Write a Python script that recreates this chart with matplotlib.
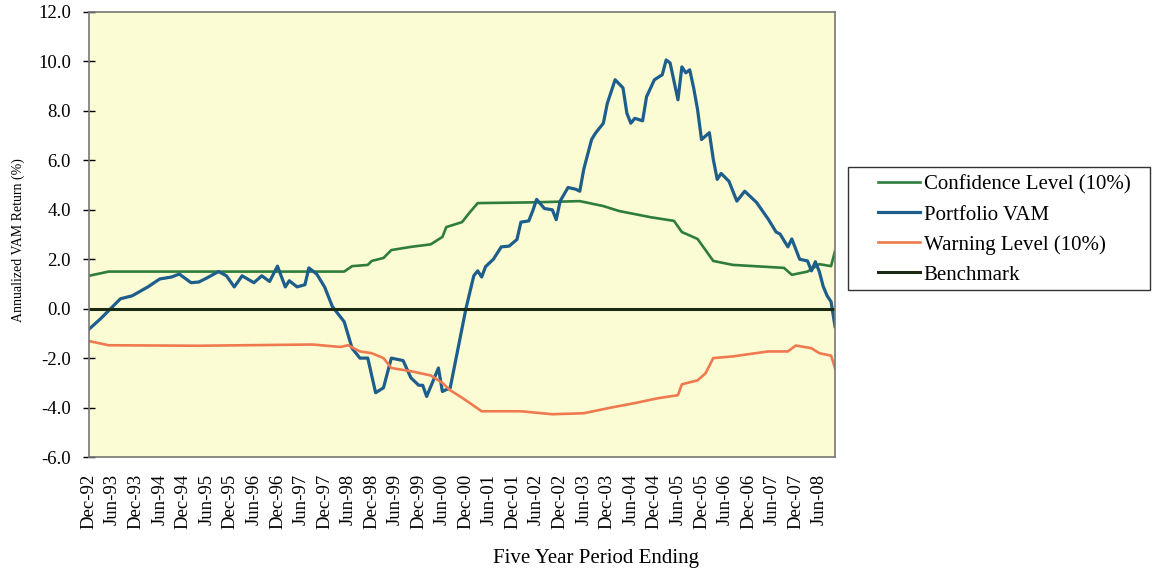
import matplotlib
matplotlib.use("Agg")
from matplotlib import pyplot as plt
from matplotlib.patches import Rectangle

# months counted from Dec-92
vam_month = [0, 3, 6, 8, 11, 15, 18, 21, 23, 26, 28, 30, 33, 35, 37, 39, 42, 44, 46, 48,
             50, 51, 53, 55, 56, 58, 60, 62, 65, 67, 69, 71, 73, 75, 77, 80, 82, 84, 85, 86,
             89, 90, 92, 96, 98, 99, 100, 101, 103, 105, 107, 109, 110, 112, 113, 114, 116,
             118, 119, 120, 122, 124, 125, 126, 128, 129, 131, 132, 134, 136, 137, 138, 139,
             141, 142, 144, 146, 147, 148, 150, 151, 152, 153, 154, 155, 156, 158, 159, 160,
             161, 163, 165, 167, 170, 173, 175, 176, 178, 179, 181, 183, 184, 185, 186, 187,
             188, 189, 190]
vam = [-0.83, -0.4, 0.08, 0.4, 0.52, 0.88, 1.2, 1.28, 1.4, 1.05, 1.08, 1.24, 1.5, 1.33, 0.88,
       1.33, 1.05, 1.33, 1.1, 1.72, 0.88, 1.13, 0.88, 0.97, 1.65, 1.4, 0.88, 0.08, -0.53, -1.6,
       -2.0, -2.0, -3.4, -3.2, -2.0, -2.1, -2.8, -3.1, -3.1, -3.55, -2.4, -3.35, -3.2, 0.0,
       1.33, 1.53, 1.28, 1.7, 2.0, 2.5, 2.53, 2.8, 3.5, 3.55, 3.95, 4.42, 4.05, 4.0, 3.6,
       4.35, 4.9, 4.83, 4.75, 5.63, 6.84, 7.1, 7.5, 8.3, 9.26, 8.93, 7.9, 7.5, 7.7, 7.6, 8.57,
       9.26, 9.46, 10.06, 9.94, 8.45, 9.78, 9.54, 9.66, 8.93, 8.05, 6.84, 7.12, 6.04, 5.23,
       5.47, 5.15, 4.35, 4.75, 4.3, 3.62, 3.1, 3.02, 2.5, 2.82, 2.0, 1.93, 1.53, 1.9, 1.5,
       0.9, 0.52, 0.28, -0.72]

conf_month = [0, 5, 28, 57, 65, 67, 71, 72, 75, 77, 82, 87, 90, 91, 95, 97, 99, 113, 125,
              131, 135, 143, 149, 151, 155, 159, 164, 177, 179, 183, 186, 189, 190]
conf = [1.33, 1.5, 1.5, 1.5, 1.5, 1.72, 1.77, 1.93, 2.05, 2.37, 2.5, 2.6, 2.9, 3.3, 3.5,
        3.9, 4.27, 4.3, 4.35, 4.15, 3.95, 3.7, 3.55, 3.1, 2.82, 1.93, 1.77, 1.65, 1.37, 1.5,
        1.8, 1.72, 2.33]

warn_month = [0, 5, 28, 45, 57, 64, 66, 69, 72, 75, 77, 82, 87, 90, 92, 95, 100, 110, 118,
              126, 133, 139, 145, 150, 151, 155, 157, 159, 164, 173, 178, 180, 184, 186, 189,
              190]
warn = [-1.31, -1.48, -1.5, -1.47, -1.45, -1.55, -1.48, -1.73, -1.8, -2.0, -2.4, -2.53,
        -2.7, -3.0, -3.3, -3.6, -4.15, -4.15, -4.27, -4.23, -4.0, -3.82, -3.62, -3.5, -3.06,
        -2.9, -2.62, -2.0, -1.93, -1.73, -1.73, -1.49, -1.6, -1.8, -1.9, -2.4]

bench_month = [0, 190]
bench = [0.0, 0.0]

tick_month = list(range(0, 187, 6))
tick_labels = ["Dec-92", "Jun-93", "Dec-93", "Jun-94", "Dec-94", "Jun-95", "Dec-95", "Jun-96",
               "Dec-96", "Jun-97", "Dec-97", "Jun-98", "Dec-98", "Jun-99", "Dec-99", "Jun-00",
               "Dec-00", "Jun-01", "Dec-01", "Jun-02", "Dec-02", "Jun-03", "Dec-03", "Jun-04",
               "Dec-04", "Jun-05", "Dec-05", "Jun-06", "Dec-06", "Jun-07", "Dec-07", "Jun-08"]
y_ticks = [-6, -4, -2, 0, 2, 4, 6, 8, 10, 12]
y_labels = ["-6.0", "-4.0", "-2.0", "0.0", "2.0", "4.0", "6.0", "8.0", "10.0", "12.0"]

plt.rcParams["font.family"] = ["Liberation Serif", "DejaVu Serif"]

fig = plt.figure(figsize=(11.53, 5.69), dpi=100)
ax = fig.add_axes([89/1153, 1 - 457/569, 746/1153, 445/569])
ax.set_facecolor("#fcfcd4")

ax.plot(conf_month, conf, color="#2e7d3c", linewidth=1.9, label="Confidence Level (10%)")
ax.plot(vam_month, vam, color="#1d5e8c", linewidth=2.3, label="Portfolio VAM")
ax.plot(warn_month, warn, color="#ef7a50", linewidth=1.9, label="Warning Level (10%)")
ax.plot(bench_month, bench, color="#1b2a12", linewidth=2.2, label="Benchmark")

ax.set_xlim(0, 190)
ax.set_ylim(-6, 12)
ax.set_xticks(tick_month)
ax.set_xticklabels(tick_labels, rotation=90, fontsize=13.5)
ax.set_yticks(y_ticks)
ax.set_yticklabels(y_labels, fontsize=13.5)
ax.tick_params(axis="x", length=0, pad=12)
ax.tick_params(axis="y", direction="inout", length=9, width=1, pad=8.5)
for s in ax.spines.values():
    s.set_color("#777777")
    s.set_linewidth(1.2)

fig.text(18/1153, 1 - 240/569, "Annualized VAM Return (%)", rotation=90,
         ha="center", va="center", fontsize=10)
fig.text(596/1153, 1 - 558/569, "Five Year Period Ending", ha="center", va="center",
         fontsize=15)

# legend box drawn separately so it can run to the right edge
fig.patches.append(Rectangle((848/1153, 1 - 290/569), 302/1153, 123/569,
                             transform=fig.transFigure, facecolor="white",
                             edgecolor="#333333", linewidth=1.0, zorder=-1))
leg = ax.legend(loc="upper left", bbox_to_anchor=(878/1153, 1 - 175/569),
                bbox_transform=fig.transFigure, fontsize=15, frameon=False,
                handlelength=2.0, handletextpad=0.2, labelspacing=0.5,
                borderpad=0, borderaxespad=0)

fig.savefig("out.png", dpi=100)
